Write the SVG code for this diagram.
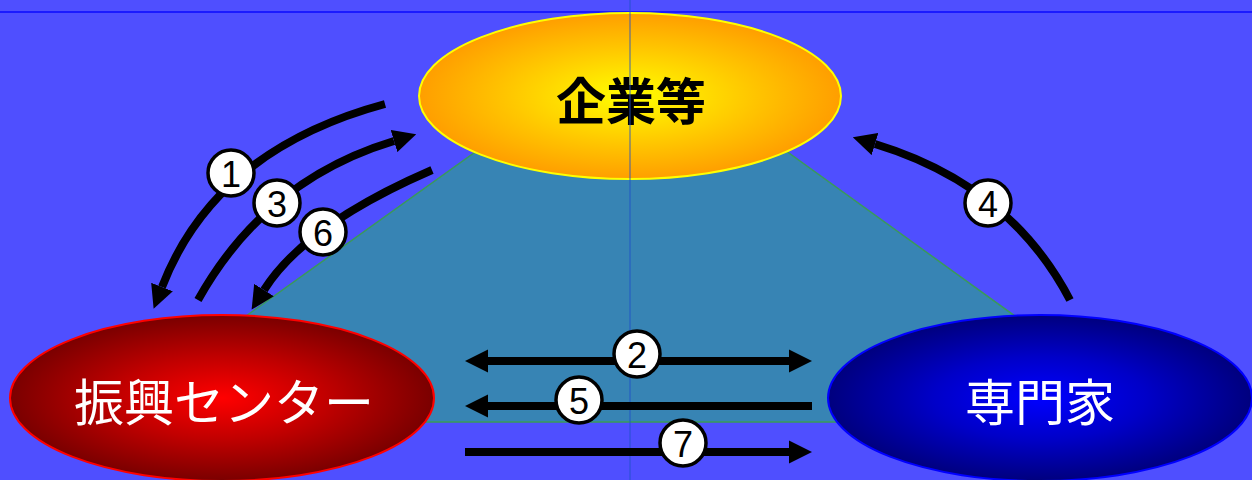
<svg xmlns="http://www.w3.org/2000/svg" width="1252" height="480" viewBox="0 0 1252 480">
<style>
.conn{fill:none;stroke:#000;stroke-width:8}
.badge circle{fill:#fff;stroke:#000;stroke-width:3.5}
.badge text{font-family:"Liberation Sans",Arial,sans-serif;font-size:36px;fill:#000;text-anchor:middle;dominant-baseline:central}
.lbl{font-family:"Noto Sans CJK JP","Noto Sans",sans-serif;font-size:50px;text-anchor:middle;dominant-baseline:central}
</style>
<defs>
<radialGradient id="gOrange" cx="50%" cy="50%" r="50%">
<stop offset="0" stop-color="#FFFF00"/>
<stop offset="0.6" stop-color="#FFC400"/>
<stop offset="1" stop-color="#FF9E00"/>
</radialGradient>
<radialGradient id="gRed" cx="50%" cy="50%" r="50%">
<stop offset="0" stop-color="#FF0000"/>
<stop offset="0.5" stop-color="#C00000"/>
<stop offset="1" stop-color="#7A0000"/>
</radialGradient>
<radialGradient id="gBlue" cx="50%" cy="50%" r="50%">
<stop offset="0" stop-color="#0000FF"/>
<stop offset="0.5" stop-color="#0000C8"/>
<stop offset="1" stop-color="#00007E"/>
</radialGradient>
<marker id="ah" viewBox="0 0 10 10" refX="0" refY="5" markerWidth="2.9" markerHeight="3" orient="auto-start-reverse" markerUnits="strokeWidth">
<path d="M0,0 L10,5 L0,10 Z" fill="#000"/>
</marker>
</defs>
<rect width="1252" height="480" fill="#4F4FFF"/>
<polygon points="520,120 743,120 1162,422 98,422" fill="#3784B4" stroke="#3A9A5A" stroke-width="1.5"/>
<line x1="0" y1="12" x2="1252" y2="12" stroke="#1A1AFF" stroke-width="2"/>
<g id="node-kigyo">
<ellipse cx="630" cy="96" rx="211" ry="83" fill="url(#gOrange)" stroke="#FFFF00" stroke-width="2"/>
<text class="lbl" x="631" y="98" fill="#000" font-weight="bold">企業等</text>
</g>
<line x1="630" y1="0" x2="630" y2="480" stroke="#2050C8" stroke-width="1" opacity="0.85"/>
<g id="connectors">
<path class="conn" d="M385,104 Q215,150 162,287" marker-end="url(#ah)"/>
<path class="conn" d="M198,300 Q265,180 394,141" marker-end="url(#ah)"/>
<path class="conn" d="M432,170 Q305,225 264,290" marker-end="url(#ah)"/>
<path class="conn" d="M1070,300 Q1010,185 875,144" marker-end="url(#ah)"/>
<path class="conn" d="M488,361 L789,361" marker-start="url(#ah)" marker-end="url(#ah)"/>
<path class="conn" d="M812,406 L488,406" marker-end="url(#ah)"/>
<path class="conn" d="M465,452 L789,452" marker-end="url(#ah)"/>
<g class="badge"><circle cx="231" cy="173" r="23"/><text x="231" y="174">1</text></g>
<g class="badge"><circle cx="277" cy="203" r="23"/><text x="277" y="204">3</text></g>
<g class="badge"><circle cx="323" cy="232" r="23"/><text x="323" y="233">6</text></g>
<g class="badge"><circle cx="988" cy="203" r="23"/><text x="988" y="204">4</text></g>
<g class="badge"><circle cx="637" cy="354" r="23"/><text x="637" y="355">2</text></g>
<g class="badge"><circle cx="579" cy="400" r="23"/><text x="579" y="401">5</text></g>
<g class="badge"><circle cx="683" cy="443" r="23"/><text x="683" y="444">7</text></g>
</g>
<g id="node-shinko">
<ellipse cx="222" cy="398" rx="212" ry="83" fill="url(#gRed)" stroke="#FF0000" stroke-width="2"/>
<text class="lbl" x="224" y="399" fill="#fff" font-size="48">振興センター</text>
</g>
<g id="node-senmonka">
<ellipse cx="1040" cy="398" rx="212" ry="83" fill="url(#gBlue)" stroke="#0000FF" stroke-width="2"/>
<text class="lbl" x="1040" y="399" fill="#fff">専門家</text>
</g>
</svg>
